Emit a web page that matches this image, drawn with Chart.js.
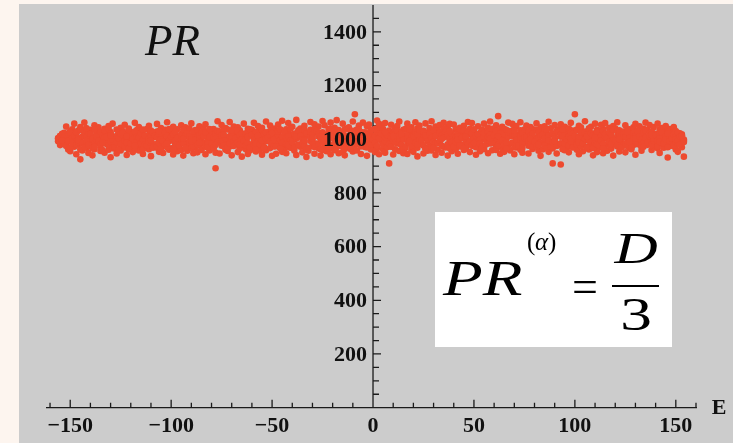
<!DOCTYPE html>
<html>
<head>
<meta charset="utf-8">
<script src="https://cdn.jsdelivr.net/npm/chart.js@4.4.1/dist/chart.umd.min.js"></script>
<style>
  html, body { margin: 0; padding: 0; background: #fdf5ef; }
  #wrap { width: 733px; height: 443px; }
</style>
</head>
<body>
<div id="wrap"><canvas id="prChart" width="733" height="443"></canvas></div>
<script>
// Eigenvalue energies E and participation ratios PR
const energy = [
  -156,-156,-155,-155,-155,-154,-154,-153,-153,-153,
  -152,-152,-151,-151,-151,-150,-150,-149,-149,-149,
  -148,-148,-147,-147,-147,-146,-146,-145,-145,-145,
  -144,-144,-143,-143,-143,-142,-142,-141,-141,-141,
  -140,-140,-139,-139,-139,-138,-138,-137,-137,-137,
  -136,-136,-135,-135,-135,-134,-134,-133,-133,-133,
  -132,-132,-131,-131,-131,-130,-130,-129,-129,-129,
  -128,-128,-127,-127,-127,-126,-126,-125,-125,-125,
  -124,-124,-123,-123,-123,-122,-122,-121,-121,-121,
  -120,-120,-119,-119,-119,-118,-118,-117,-117,-117,
  -116,-116,-115,-115,-115,-114,-114,-113,-113,-113,
  -112,-112,-111,-111,-111,-110,-110,-109,-109,-109,
  -108,-108,-107,-107,-107,-106,-106,-105,-105,-105,
  -104,-104,-103,-103,-103,-102,-102,-101,-101,-101,
  -100,-100,-99,-99,-99,-98,-98,-97,-97,-97,
  -96,-96,-95,-95,-95,-94,-94,-93,-93,-93,
  -92,-92,-91,-91,-91,-90,-90,-89,-89,-89,
  -88,-88,-87,-87,-87,-86,-86,-85,-85,-85,
  -84,-84,-83,-83,-83,-82,-82,-81,-81,-81,
  -80,-80,-79,-79,-79,-78,-78,-77,-77,-77,
  -76,-76,-75,-75,-75,-74,-74,-73,-73,-73,
  -72,-72,-71,-71,-71,-70,-70,-69,-69,-69,
  -68,-68,-67,-67,-67,-66,-66,-65,-65,-65,
  -64,-64,-63,-63,-63,-62,-62,-61,-61,-61,
  -60,-60,-59,-59,-59,-58,-58,-57,-57,-57,
  -56,-56,-55,-55,-55,-54,-54,-53,-53,-53,
  -52,-52,-51,-51,-51,-50,-50,-49,-49,-49,
  -48,-48,-47,-47,-47,-46,-46,-45,-45,-45,
  -44,-44,-43,-43,-43,-42,-42,-41,-41,-41,
  -40,-40,-39,-39,-39,-38,-38,-37,-37,-37,
  -36,-36,-35,-35,-35,-34,-34,-33,-33,-33,
  -32,-32,-31,-31,-31,-30,-30,-29,-29,-29,
  -28,-28,-27,-27,-27,-26,-26,-25,-25,-25,
  -24,-24,-23,-23,-23,-22,-22,-21,-21,-21,
  -20,-20,-19,-19,-19,-18,-18,-17,-17,-17,
  -16,-16,-15,-15,-15,-14,-14,-13,-13,-13,
  -12,-12,-11,-11,-11,-10,-10,-9,-9,-9,
  -8,-8,-7,-7,-7,-6,-6,-5,-5,-5,
  -4,-4,-3,-3,-3,-2,-2,-1,-1,-1,
  0,0,1,1,1,2,2,3,3,3,
  4,4,5,5,5,6,6,7,7,7,
  8,8,9,9,9,10,10,11,11,11,
  12,12,13,13,13,14,14,15,15,15,
  16,16,17,17,17,18,18,19,19,19,
  20,20,21,21,21,22,22,23,23,23,
  24,24,25,25,25,26,26,27,27,27,
  28,28,29,29,29,30,30,31,31,31,
  32,32,33,33,33,34,34,35,35,35,
  36,36,37,37,37,38,38,39,39,39,
  40,40,41,41,41,42,42,43,43,43,
  44,44,45,45,45,46,46,47,47,47,
  48,48,49,49,49,50,50,51,51,51,
  52,52,53,53,53,54,54,55,55,55,
  56,56,57,57,57,58,58,59,59,59,
  60,60,61,61,61,62,62,63,63,63,
  64,64,65,65,65,66,66,67,67,67,
  68,68,69,69,69,70,70,71,71,71,
  72,72,73,73,73,74,74,75,75,75,
  76,76,77,77,77,78,78,79,79,79,
  80,80,81,81,81,82,82,83,83,83,
  84,84,85,85,85,86,86,87,87,87,
  88,88,89,89,89,90,90,91,91,91,
  92,92,93,93,93,94,94,95,95,95,
  96,96,97,97,97,98,98,99,99,99,
  100,100,101,101,101,102,102,103,103,103,
  104,104,105,105,105,106,106,107,107,107,
  108,108,109,109,109,110,110,111,111,111,
  112,112,113,113,113,114,114,115,115,115,
  116,116,117,117,117,118,118,119,119,119,
  120,120,121,121,121,122,122,123,123,123,
  124,124,125,125,125,126,126,127,127,127,
  128,128,129,129,129,130,130,131,131,131,
  132,132,133,133,133,134,134,135,135,135,
  136,136,137,137,137,138,138,139,139,139,
  140,140,141,141,141,142,142,143,143,143,
  144,144,145,145,145,146,146,147,147,147,
  148,148,149,149,149,150,150,151,151,151,
  151,152,152,153,153,154,154,153,152,153,
  // second pass, dense middle of the band
  -156,-155,-155,-154,-154,-153,-153,-154,
  -152,-151,-151,-150,-150,-149,-149,-150,
  -148,-147,-147,-146,-146,-145,-145,-146,
  -144,-143,-143,-142,-142,-141,-141,-142,
  -140,-139,-139,-138,-138,-137,-137,-138,
  -136,-135,-135,-134,-134,-133,-133,-134,
  -132,-131,-131,-130,-130,-129,-129,-130,
  -128,-127,-127,-126,-126,-125,-125,-126,
  -124,-123,-123,-122,-122,-121,-121,-122,
  -120,-119,-119,-118,-118,-117,-117,-118,
  -116,-115,-115,-114,-114,-113,-113,-114,
  -112,-111,-111,-110,-110,-109,-109,-110,
  -108,-107,-107,-106,-106,-105,-105,-106,
  -104,-103,-103,-102,-102,-101,-101,-102,
  -100,-99,-99,-98,-98,-97,-97,-98,
  -96,-95,-95,-94,-94,-93,-93,-94,
  -92,-91,-91,-90,-90,-89,-89,-90,
  -88,-87,-87,-86,-86,-85,-85,-86,
  -84,-83,-83,-82,-82,-81,-81,-82,
  -80,-79,-79,-78,-78,-77,-77,-78,
  -76,-75,-75,-74,-74,-73,-73,-74,
  -72,-71,-71,-70,-70,-69,-69,-70,
  -68,-67,-67,-66,-66,-65,-65,-66,
  -64,-63,-63,-62,-62,-61,-61,-62,
  -60,-59,-59,-58,-58,-57,-57,-58,
  -56,-55,-55,-54,-54,-53,-53,-54,
  -52,-51,-51,-50,-50,-49,-49,-50,
  -48,-47,-47,-46,-46,-45,-45,-46,
  -44,-43,-43,-42,-42,-41,-41,-42,
  -40,-39,-39,-38,-38,-37,-37,-38,
  -36,-35,-35,-34,-34,-33,-33,-34,
  -32,-31,-31,-30,-30,-29,-29,-30,
  -28,-27,-27,-26,-26,-25,-25,-26,
  -24,-23,-23,-22,-22,-21,-21,-22,
  -20,-19,-19,-18,-18,-17,-17,-18,
  -16,-15,-15,-14,-14,-13,-13,-14,
  -12,-11,-11,-10,-10,-9,-9,-10,
  -8,-7,-7,-6,-6,-5,-5,-6,
  -4,-3,-3,-2,-2,-1,-1,-2,
  0,1,1,2,2,3,3,2,
  4,5,5,6,6,7,7,6,
  8,9,9,10,10,11,11,10,
  12,13,13,14,14,15,15,14,
  16,17,17,18,18,19,19,18,
  20,21,21,22,22,23,23,22,
  24,25,25,26,26,27,27,26,
  28,29,29,30,30,31,31,30,
  32,33,33,34,34,35,35,34,
  36,37,37,38,38,39,39,38,
  40,41,41,42,42,43,43,42,
  44,45,45,46,46,47,47,46,
  48,49,49,50,50,51,51,50,
  52,53,53,54,54,55,55,54,
  56,57,57,58,58,59,59,58,
  60,61,61,62,62,63,63,62,
  64,65,65,66,66,67,67,66,
  68,69,69,70,70,71,71,70,
  72,73,73,74,74,75,75,74,
  76,77,77,78,78,79,79,78,
  80,81,81,82,82,83,83,82,
  84,85,85,86,86,87,87,86,
  88,89,89,90,90,91,91,90,
  92,93,93,94,94,95,95,94,
  96,97,97,98,98,99,99,98,
  100,101,101,102,102,103,103,102,
  104,105,105,106,106,107,107,106,
  108,109,109,110,110,111,111,110,
  112,113,113,114,114,115,115,114,
  116,117,117,118,118,119,119,118,
  120,121,121,122,122,123,123,122,
  124,125,125,126,126,127,127,126,
  128,129,129,130,130,131,131,130,
  132,133,133,134,134,135,135,134,
  136,137,137,138,138,139,139,138,
  140,141,141,142,142,143,143,142,
  144,145,145,146,146,147,147,146,
  148,149,149,150,150,151,151,150,
  151,152,153,153,154,152,153,154
];

const pr = [
  992,1004,985,1012,978,1018,996,1008,983,1024,
  1047,983,1015,962,999,1026,955,1037,990,1005,
  1058,972,1019,944,1003,1032,981,1045,925,998,
  1010,958,1062,987,1024,968,1041,949,1002,1016,
  975,1035,940,1008,992,1052,963,1020,985,1029,
  1044,997,956,1013,970,1026,988,950,1039,1005,
  982,1018,961,1049,995,933,1027,974,1010,1058,
  1001,965,1036,987,947,1022,1011,978,1043,958,
  1030,990,969,1054,1006,941,1017,984,962,1040,
  997,1025,952,1008,976,1061,989,1034,966,1014,
  958,1045,1003,979,1021,945,1032,993,1010,971,
  1038,986,963,1016,1050,998,937,1026,975,1007,
  981,1012,1057,968,1029,953,995,1042,1004,973,
  1019,949,988,1035,977,1063,1000,961,1024,992,
  966,1031,1008,943,1046,985,1015,972,1037,955,
  1003,978,1052,990,960,1022,939,1011,984,1044,
  1027,957,996,1040,974,1009,1059,948,1018,987,
  970,1034,1013,951,993,1048,980,1025,962,1002,
  1041,986,944,1017,1056,971,1006,958,1031,994,
  983,1020,965,1038,1001,892,950,1067,990,1012,
  1010,947,1029,976,1053,992,1015,961,1042,985,
  956,1036,999,1064,973,1021,940,1007,988,1047,
  1024,981,1044,952,1009,968,1033,995,935,1016,
  989,1058,963,1019,1001,945,1039,977,1026,958,
  1035,970,1011,987,1061,954,997,1028,966,1049,
  961,1014,942,1043,980,1022,1006,959,1066,993,
  1018,996,1051,967,1030,938,1012,984,1040,975,
  946,1027,990,1009,1055,972,1036,953,1003,1069,
  1005,964,1037,982,948,1024,1060,991,1015,968,
  1046,985,958,1020,999,1072,941,1011,977,1033,
  972,1040,1008,951,1028,989,1050,964,1017,934,
  1013,957,1064,993,1035,975,1003,946,1025,1056,
  984,1031,966,1047,1010,939,1022,998,1068,960,
  1052,973,1016,990,955,1038,981,1062,1006,944,
  967,1026,1043,959,1001,1071,986,1019,948,1034,
  1021,994,952,1058,977,1012,940,1040,1004,969,
  988,1044,1009,963,1030,1066,954,1093,995,1023,
  1036,958,1017,999,1051,945,1027,976,1062,990,
  971,1008,1048,938,1020,985,1055,962,1033,1002,
  1014,981,952,1039,997,1070,966,1025,944,1057,
  993,1045,1011,963,1029,950,1060,987,1018,975,
  910,1032,996,1054,972,1016,943,1041,1005,962,
  1049,984,1023,956,1066,1000,978,1035,948,1013,
  967,1038,991,1058,945,1021,1007,960,1044,986,
  1026,953,1063,998,974,1040,936,1012,989,1051,
  982,1017,947,1031,1005,968,1059,993,1024,957,
  1042,976,1009,1067,958,1028,990,1047,941,1015,
  961,1034,988,1019,1053,950,1003,972,1038,1061,
  1010,969,1046,939,1025,996,1057,980,1016,955,
  1055,992,964,1037,984,1013,946,1043,1001,973,
  979,1022,1050,960,1031,1004,966,1064,988,1029,
  1039,952,1014,994,1060,975,1027,942,1008,985,
  970,1048,983,1023,955,1036,1002,1058,963,1018,
  1025,997,1043,948,1011,984,1066,959,1030,990,
  987,1019,960,1052,999,1086,973,1034,946,1009,
  1046,966,1006,1038,953,1021,993,1062,977,1015,
  958,1030,1057,985,1012,944,1040,1001,969,1049,
  1017,978,1033,961,1063,995,950,1024,1008,987,
  1051,992,947,1011,976,1045,1020,964,1037,998,
  974,1035,1006,1059,989,957,1028,1044,938,1014,
  1023,962,1048,995,1031,976,1005,953,1065,982,
  990,1041,910,1018,966,1053,1000,975,1030,947,
  1037,980,906,1009,1056,963,1022,994,1046,959,
  968,1027,1013,951,1040,985,1061,1002,973,1032,
  1093,1004,961,1036,990,1050,944,1019,977,1044,
  1012,955,1029,996,1067,971,1008,1041,962,1024,
  983,1046,1001,940,1021,1058,986,1010,952,1035,
  1030,969,1054,992,1015,948,1038,976,1060,1003,
  957,1018,984,1043,1006,965,1027,995,1049,939,
  1040,994,1063,973,1011,1033,954,1022,988,1005,
  976,1029,1008,951,1052,990,1016,967,1037,999,
  1021,963,1044,1000,978,1057,942,1031,1010,985,
  995,1048,970,1025,957,1013,1039,983,1062,1004,
  1034,979,1016,992,1053,960,1027,1045,971,1008,
  987,1020,1058,966,1005,1036,949,1014,993,1042,
  1012,968,1034,990,1049,932,1021,975,1003,1038,
  996,1027,974,1045,1008,962,1030,987,1015,953,
  1003,985,1022,970,1012,935,994,1018,980,1006,
  // second pass, dense middle of the band
  1001,990,1012,996,1020,984,1006,995,
  975,1018,993,1030,968,1007,986,1024,
  1013,979,1026,990,1004,962,1035,997,
  986,1031,970,1009,993,1022,978,1040,
  1019,966,1002,984,1037,999,1011,972,
  994,1027,980,1015,960,1005,1033,988,
  1008,976,1039,991,1021,967,998,1014,
  971,1012,989,1028,1003,982,1019,961,
  1024,995,974,1006,987,1034,965,1011,
  983,1016,1001,969,1029,992,1009,977,
  1006,985,1023,997,963,1014,981,1036,
  977,1003,990,1032,1010,968,1025,995,
  1015,972,1007,986,1021,1000,964,1030,
  991,1025,978,1012,970,1038,996,984,
  1009,962,1017,994,1027,981,1004,973,
  976,1019,999,1035,985,967,1013,1002,
  1021,988,1010,966,1000,1029,975,992,
  997,1033,979,1005,1016,960,1024,987,
  1012,974,1026,993,982,1008,1038,969,
  985,1007,968,1020,1001,989,1031,978,
  1028,996,1013,977,1036,963,1003,1017,
  970,1011,984,1002,1024,991,975,1033,
  1004,987,1030,965,1015,999,1021,980,
  993,1022,976,1010,986,1037,969,1008,
  1016,978,1000,1027,961,1013,992,983,
  981,1034,995,971,1019,1004,1026,967,
  1007,990,1018,984,1032,973,1001,1023,
  974,1014,1029,998,966,1009,987,1036,
  1025,983,1005,972,1011,994,1039,979,
  989,1020,967,1016,1003,980,1028,1010,
  1013,1000,985,1034,976,1022,962,996,
  968,1027,1007,990,1017,971,1035,1004,
  1030,979,1019,963,1002,1026,988,1011,
  997,1010,973,1024,984,1040,1006,965,
  1018,986,1032,1001,970,1012,993,1025,
  975,1022,990,1014,1036,982,1003,964,
  1009,967,1028,995,1019,1005,977,1031,
  984,1035,1002,973,1011,989,1024,996,
  1026,993,969,1017,1000,1033,980,1008,
  999,1012,987,1029,966,1020,1004,975,
  1020,978,1038,992,1007,970,1015,1027,
  983,1006,974,1023,995,1031,988,1012,
  1032,991,1014,979,1026,962,1001,1019,
  972,1016,1003,1036,985,1009,975,994,
  1011,987,1027,968,1018,997,1034,980,
  994,1029,977,1008,963,1022,1000,1015,
  1017,971,1004,990,1033,983,1012,968,
  986,1024,995,1013,976,1038,1006,1001,
  1028,981,1016,966,1002,1020,989,1030,
  973,1007,990,1025,1011,978,1035,998,
  1005,1033,967,1014,993,1026,982,1009,
  992,976,1021,1003,1037,970,1013,986,
  1019,1000,984,1030,974,1010,1023,965,
  980,1027,1008,991,1016,985,1039,1002,
  1014,969,1031,977,1005,1022,994,1011,
  996,1020,982,1035,964,1009,1027,988,
  1025,988,1012,970,1018,998,975,1032,
  977,1011,999,1023,986,1036,1004,967,
  1008,994,1029,981,1013,972,1020,1001,
  990,1034,973,1006,1024,987,1010,979,
  1016,976,1002,1028,966,1015,996,1037,
  971,1021,989,1011,1003,980,1030,992,
  1027,985,1017,964,1035,1005,983,1012,
  998,1009,976,1026,991,1019,969,1003,
  1012,980,1033,995,1008,974,1024,987,
  985,1025,1001,970,1017,1038,993,1010,
  1022,967,1014,988,1000,1027,979,1006,
  976,1013,995,1031,983,1009,1020,965,
  1004,990,1026,973,1016,996,1035,982,
  993,1030,978,1007,1023,969,1011,1000,
  1018,984,1009,1036,975,1014,990,1027,
  969,1006,1022,994,1012,1030,981,1003,
  1010,977,998,1025,987,1005,1033,972,
  988,1021,1011,979,1028,994,1002,1016,
  1015,995,974,1019,1003,985,1026,990,
  984,1012,1000,1027,970,1008,993,1021,
  1003,978,1017,990,1011,984,1024,998,
  994,1009,986,1015,999,981,1012,990
];

const xTickLabels = [-150, -100, -50, 0, 50, 100, 150];
const yTickLabels = [200, 400, 600, 800, 1000, 1200, 1400];

const serif = '"Liberation Serif", "Times New Roman", serif';

const points = energy.map((e, i) => ({ x: e, y: pr[i] }));

// draw text squeezed/stretched horizontally around (x, y)
function wideText(c, text, x, y, sx) {
  c.save();
  c.translate(x, y);
  c.scale(sx, 1);
  c.fillText(text, 0, 0);
  c.restore();
}

// Mathematica-style axes crossing at E = 0, drawn on the chart scales
const axesPlugin = {
  id: 'axes',
  beforeDraw(chart) {
    const c = chart.ctx;
    c.save();
    c.fillStyle = '#fdf5ef';
    c.fillRect(0, 0, chart.width, chart.height);
    c.fillStyle = '#cccccc';
    c.fillRect(19, 4, chart.width - 19, chart.height - 4);
    c.restore();
  },
  beforeDatasetsDraw(chart) {
    const { ctx: c, chartArea: a, scales: { x, y } } = chart;
    const x0 = x.getPixelForValue(0);
    const y0 = y.getPixelForValue(0);
    c.save();
    c.strokeStyle = '#1a1a1a';
    c.lineWidth = 1.3;
    c.beginPath();
    c.moveTo(a.left, y0); c.lineTo(a.right, y0);
    c.moveTo(x0, a.top); c.lineTo(x0, y0);
    // x ticks, minor every 10
    for (let v = -160; v <= 160; v += 10) {
      const px = x.getPixelForValue(v);
      const len = v % 50 === 0 ? 8 : 5;
      c.moveTo(px, y0); c.lineTo(px, y0 - len);
    }
    // y ticks, minor every 50
    for (let v = 50; v <= 1450; v += 50) {
      const py = y.getPixelForValue(v);
      const len = v % 200 === 0 ? 8 : 6;
      c.moveTo(x0, py); c.lineTo(x0 + len, py);
    }
    c.stroke();
    c.restore();
  },
  afterDatasetsDraw(chart) {
    const { ctx: c, scales: { x, y } } = chart;
    const x0 = x.getPixelForValue(0);
    const y0 = y.getPixelForValue(0);
    c.save();
    c.fillStyle = '#111';
    c.font = 'bold 22px ' + serif;
    c.textAlign = 'right';
    c.textBaseline = 'middle';
    yTickLabels.forEach(v => c.fillText(String(v), x0 - 6, y.getPixelForValue(v) + 1));
    c.textAlign = 'center';
    xTickLabels.forEach(v => {
      const s = v < 0 ? '\u2212' + Math.abs(v) : String(v);
      c.fillText(s, x.getPixelForValue(v), y0 + 19);
    });
    c.fillText('E', 719, y0 + 1);

    // title
    c.font = 'italic 45px ' + serif;
    c.textAlign = 'left';
    c.textBaseline = 'alphabetic';
    c.fillText('PR', 145, 55);

    // formula box
    c.fillStyle = '#ffffff';
    c.fillRect(435, 212, 237, 135);
    c.fillStyle = '#000';
    c.font = 'italic 50px ' + serif;
    wideText(c, 'PR', 443, 295, 1.3);
    c.font = '25px ' + serif;
    c.fillText('(', 527, 250);
    c.fillText(')', 548, 250);
    c.font = 'italic 25px ' + serif;
    c.fillText('\u03b1', 535, 250);
    c.font = '46px ' + serif;
    c.textAlign = 'center';
    c.fillText('=', 585, 302);
    c.font = 'italic 45px ' + serif;
    wideText(c, 'D', 636, 263, 1.33);
    c.font = '47px ' + serif;
    wideText(c, '3', 636, 330, 1.35);
    c.fillRect(612, 285, 47, 2);
    c.restore();
  }
};

new Chart(document.getElementById('prChart'), {
  type: 'scatter',
  data: {
    datasets: [{
      data: points,
      backgroundColor: '#ee4a2f',
      pointRadius: 3.3,
      pointBorderWidth: 0,
      pointHoverRadius: 3.3,
    }],
  },
  options: {
    responsive: false,
    animation: false,
    layout: { padding: { left: 46, right: 36, top: 5, bottom: 34 } },
    plugins: { legend: { display: false }, tooltip: { enabled: false } },
    scales: {
      x: { type: 'linear', min: -162, max: 160.5, display: false },
      y: { type: 'linear', min: -5, max: 1500, display: false },
    },
  },
  plugins: [axesPlugin],
});
</script>
</body>
</html>
